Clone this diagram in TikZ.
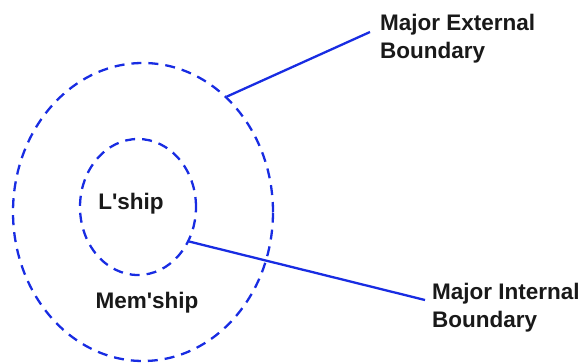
\documentclass[tikz,border=0pt]{standalone}
\usepackage{fontspec}
\setmainfont{Liberation Sans}
\usetikzlibrary{shapes.geometric}
\definecolor{bblue}{RGB}{24,44,226}
\tikzset{
  bound/.style={ellipse, draw=bblue, line width=2.3pt, dash pattern=on 10pt off 7pt, inner sep=0pt},
  lead/.style={draw=bblue, line width=2.3pt},
  lbl/.style={font=\bfseries\fontsize{22.5}{28}\selectfont, text=black!90, inner sep=0pt},
  note/.style={lbl, align=left, anchor=west}
}
\begin{document}
\begin{tikzpicture}[x=1pt,y=-1pt]
\useasboundingbox (0,0) rectangle (584,363);
\node[bound, minimum width=260pt, minimum height=298pt] (outer) at (143,212) {};
\node[bound, minimum width=116pt, minimum height=136pt] (inner) at (138,207) {};
\node[lbl] (lship) at (131,204) {L\textquotesingle ship};
\node[lbl] (mship) at (147,303) {Mem\textquotesingle ship};
\node[note] (ext) at (380,39) {Major External\\Boundary};
\node[note] (int) at (432,308) {Major Internal\\Boundary};
\coordinate (extend) at (370,32);
\coordinate (intend) at (425,300);
\draw[lead] (outer.54) -- (extend);
\draw[lead] (inner.-34) -- (intend);
\end{tikzpicture}
\end{document}
